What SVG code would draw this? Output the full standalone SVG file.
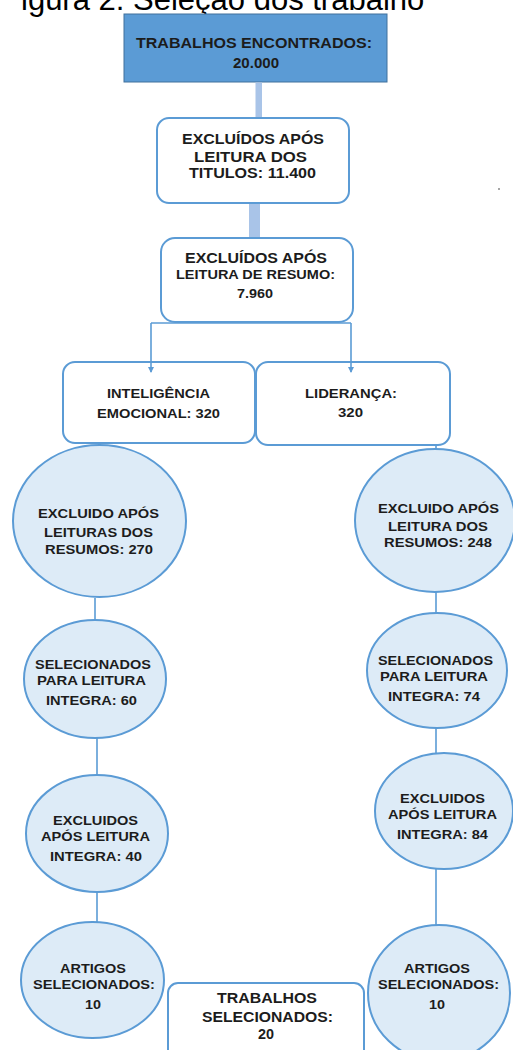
<svg xmlns="http://www.w3.org/2000/svg" width="513" height="1050" viewBox="0 0 513 1050">
<defs>
<marker id="arr" viewBox="0 0 6 6" refX="5" refY="3" markerWidth="6" markerHeight="6" orient="auto" markerUnits="userSpaceOnUse">
<path d="M0,0 L6,3 L0,6 Z" fill="#5B9BD5"/>
</marker>
</defs>
<style>
text{font-family:"Liberation Sans",Arial,sans-serif;font-weight:bold;fill:#1c1c1c;text-anchor:middle}
.t14{font-size:14px}
.t13{font-size:13px}
.t12{font-size:12px}
.title{font-family:"Liberation Sans",Arial,sans-serif;font-weight:normal;font-size:31px;fill:#000;text-anchor:start}
.box{fill:#fff;stroke:#5B9BD5;stroke-width:2}
.ell{fill:#DDEBF7;stroke:#5B9BD5;stroke-width:2}
.thin{fill:none;stroke:#5B9BD5;stroke-width:1.6}
.thick{fill:#A9C4E8;stroke:none}
</style>
<rect width="513" height="1050" fill="#fff"/>
<text class="title" x="21" y="9.5">igura 2: Seleção dos trabalho</text>
<g id="n1">
<rect x="124" y="14" width="263" height="68" fill="#5B9BD5" stroke="#41719C" stroke-width="1"/>
<text class="t14" x="254" y="48" textLength="236" lengthAdjust="spacingAndGlyphs">TRABALHOS ENCONTRADOS:</text>
<text class="t14" x="256" y="68" textLength="46" lengthAdjust="spacingAndGlyphs">20.000</text>
</g>
<g id="n2">
<rect class="box" x="157" y="118" width="192" height="85" rx="12"/>
<text class="t14" x="253" y="144" textLength="142" lengthAdjust="spacingAndGlyphs">EXCLUÍDOS APÓS</text>
<text class="t14" x="250.5" y="162" textLength="113" lengthAdjust="spacingAndGlyphs">LEITURA DOS</text>
<text class="t14" x="252.5" y="178" textLength="127" lengthAdjust="spacingAndGlyphs">TITULOS: 11.400</text>
</g>
<g id="n3">
<rect class="box" x="161" y="238" width="192" height="84" rx="14"/>
<text class="t14" x="256" y="263" textLength="142" lengthAdjust="spacingAndGlyphs">EXCLUÍDOS APÓS</text>
<text class="t12" x="255.5" y="278.5" textLength="159" lengthAdjust="spacingAndGlyphs">LEITURA DE RESUMO:</text>
<text class="t12" x="255" y="298" textLength="36" lengthAdjust="spacingAndGlyphs">7.960</text>
</g>
<g id="n4">
<rect class="box" x="63" y="362" width="192" height="81" rx="12"/>
<text class="t13" x="158.5" y="398" textLength="103" lengthAdjust="spacingAndGlyphs">INTELIGÊNCIA</text>
<text class="t13" x="158.5" y="418" textLength="123" lengthAdjust="spacingAndGlyphs">EMOCIONAL: 320</text>
</g>
<g id="n5">
<rect class="box" x="256" y="362" width="194" height="83" rx="12"/>
<text class="t13" x="351" y="398" textLength="92" lengthAdjust="spacingAndGlyphs">LIDERANÇA:</text>
<text class="t13" x="350.5" y="417" textLength="25" lengthAdjust="spacingAndGlyphs">320</text>
</g>
<g id="e1">
<ellipse class="ell" cx="99.5" cy="521" rx="86.5" ry="76"/>
<text class="t13" x="98.5" y="518" textLength="121" lengthAdjust="spacingAndGlyphs">EXCLUIDO APÓS</text>
<text class="t13" x="98.5" y="537" textLength="109" lengthAdjust="spacingAndGlyphs">LEITURAS DOS</text>
<text class="t13" x="99" y="554" textLength="108" lengthAdjust="spacingAndGlyphs">RESUMOS: 270</text>
</g>
<g id="e2">
<ellipse class="ell" cx="435" cy="520.5" rx="80" ry="71.5"/>
<text class="t13" x="438.5" y="513" textLength="121" lengthAdjust="spacingAndGlyphs">EXCLUIDO APÓS</text>
<text class="t13" x="438" y="531" textLength="100" lengthAdjust="spacingAndGlyphs">LEITURA DOS</text>
<text class="t13" x="438" y="547" textLength="108" lengthAdjust="spacingAndGlyphs">RESUMOS: 248</text>
</g>
<g id="e3">
<ellipse class="ell" cx="95" cy="679" rx="71" ry="59"/>
<text class="t13" x="93" y="669" textLength="116" lengthAdjust="spacingAndGlyphs">SELECIONADOS</text>
<text class="t13" x="91.5" y="685" textLength="109" lengthAdjust="spacingAndGlyphs">PARA LEITURA</text>
<text class="t13" x="91.5" y="705" textLength="91" lengthAdjust="spacingAndGlyphs">INTEGRA: 60</text>
</g>
<g id="e4">
<ellipse class="ell" cx="437" cy="670.5" rx="70" ry="57.5"/>
<text class="t13" x="435.5" y="665" textLength="115" lengthAdjust="spacingAndGlyphs">SELECIONADOS</text>
<text class="t13" x="434" y="681" textLength="108" lengthAdjust="spacingAndGlyphs">PARA LEITURA</text>
<text class="t13" x="434" y="701" textLength="92" lengthAdjust="spacingAndGlyphs">INTEGRA: 74</text>
</g>
<g id="e5">
<ellipse class="ell" cx="97" cy="833.5" rx="71" ry="58.5"/>
<text class="t13" x="95.5" y="825" textLength="85" lengthAdjust="spacingAndGlyphs">EXCLUIDOS</text>
<text class="t13" x="95.5" y="841" textLength="109" lengthAdjust="spacingAndGlyphs">APÓS LEITURA</text>
<text class="t13" x="96" y="861" textLength="92" lengthAdjust="spacingAndGlyphs">INTEGRA: 40</text>
</g>
<g id="e6">
<ellipse class="ell" cx="444" cy="811" rx="69" ry="58"/>
<text class="t13" x="442.5" y="803" textLength="85" lengthAdjust="spacingAndGlyphs">EXCLUIDOS</text>
<text class="t13" x="442.5" y="819" textLength="109" lengthAdjust="spacingAndGlyphs">APÓS LEITURA</text>
<text class="t13" x="442.5" y="839" textLength="91" lengthAdjust="spacingAndGlyphs">INTEGRA: 84</text>
</g>
<g id="e7">
<ellipse class="ell" cx="92.5" cy="980" rx="71.5" ry="58"/>
<text class="t13" x="93" y="973" textLength="66" lengthAdjust="spacingAndGlyphs">ARTIGOS</text>
<text class="t13" x="94" y="989" textLength="122" lengthAdjust="spacingAndGlyphs">SELECIONADOS:</text>
<text class="t13" x="93" y="1009" textLength="16" lengthAdjust="spacingAndGlyphs">10</text>
</g>
<g id="e8">
<ellipse class="ell" cx="439" cy="993" rx="71" ry="68"/>
<text class="t13" x="437" y="973" textLength="66" lengthAdjust="spacingAndGlyphs">ARTIGOS</text>
<text class="t13" x="438.5" y="989" textLength="121" lengthAdjust="spacingAndGlyphs">SELECIONADOS:</text>
<text class="t13" x="437" y="1009" textLength="16" lengthAdjust="spacingAndGlyphs">10</text>
</g>
<g id="n6">
<rect class="box" x="168" y="983" width="196" height="80" rx="10"/>
<text class="t14" x="267" y="1003" textLength="100" lengthAdjust="spacingAndGlyphs">TRABALHOS</text>
<text class="t14" x="267.5" y="1022" textLength="131" lengthAdjust="spacingAndGlyphs">SELECIONADOS:</text>
<text class="t14" x="266" y="1039" textLength="16" lengthAdjust="spacingAndGlyphs">20</text>
</g>
<g id="connectors">
<rect class="thick" x="255.5" y="82.5" width="6.5" height="34.5"/>
<rect class="thick" x="249" y="204" width="11" height="33"/>
<path class="thin" d="M151,323 H351"/>
<line class="thin" x1="151" y1="323" x2="151" y2="372" marker-end="url(#arr)"/>
<line class="thin" x1="351" y1="323" x2="351" y2="372" marker-end="url(#arr)"/>
<line class="thin" x1="436" y1="446" x2="436" y2="449"/>
<line class="thin" x1="95" y1="598" x2="95" y2="620"/>
<line class="thin" x1="436" y1="592" x2="436" y2="613"/>
<line class="thin" x1="97" y1="738" x2="97" y2="775"/>
<line class="thin" x1="436" y1="728" x2="436" y2="753"/>
<line class="thin" x1="97" y1="892" x2="97" y2="922"/>
<line class="thin" x1="436" y1="869" x2="436" y2="925"/>
</g>
<circle cx="499" cy="189" r="1" fill="#888"/>
</svg>
